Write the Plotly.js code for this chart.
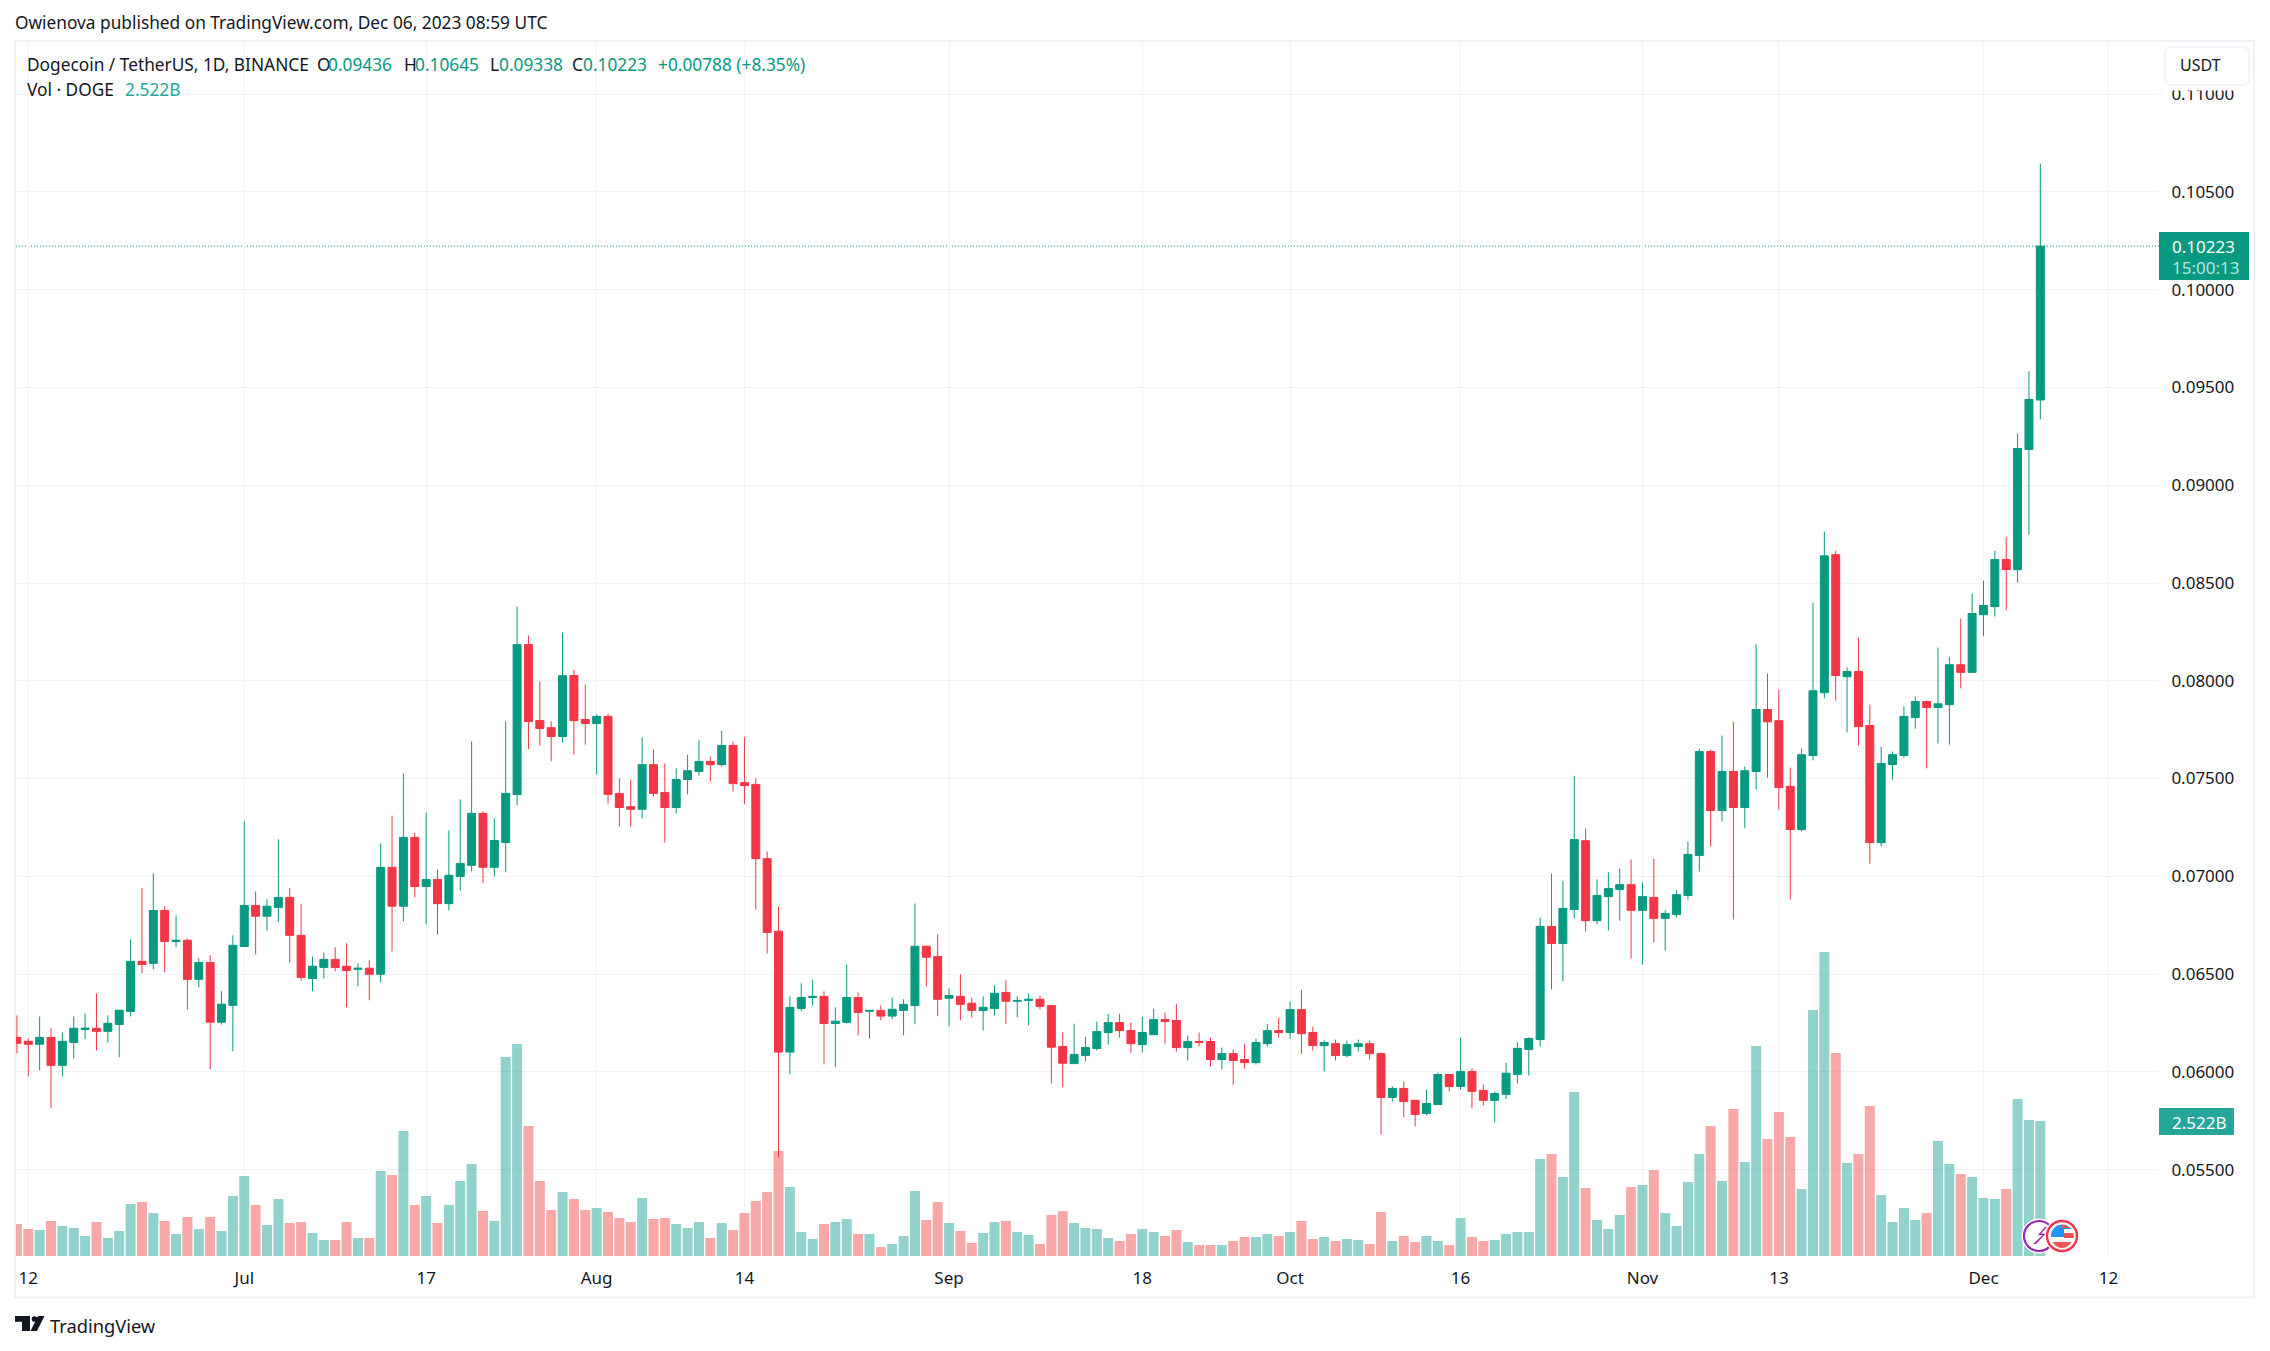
<!DOCTYPE html>
<html>
<head>
<meta charset="utf-8">
<script src="https://cdn.plot.ly/plotly-3.0.1.min.js"></script>
<style>html,body{margin:0;padding:0;background:#fff}#chart{width:2270px;height:1351px}</style>
</head>
<body>
<div id="chart"></div>
<script>
// First candle's calendar day; candles are consecutive days
const firstDay = '2023-06-11';

const opens = [
.06176,.06156,.06141,.06176,.06033,.06150,.06217,.06223,.06207,.06242,
.06309,.06565,.06555,.06825,.06667,.06673,.06473,.06559,.06254,.06340,
.06641,.06851,.06796,.06841,.06892,.06698,.06477,.06534,.06575,.06540,
.06524,.06530,.06499,.07046,.06847,.07199,.06948,.06984,.06860,.06999,
.07056,.07322,.07046,.07173,.07418,.08185,.07797,.07760,.07715,.08027,
.07802,.07781,.07818,.07423,.07356,.07343,.07571,.07429,.07352,.07495,
.07536,.07587,.07571,.07669,.07479,.07470,.07090,.06719,.06101,.06324,
.06380,.06386,.06247,.06253,.06380,.06310,.06314,.06285,.06314,.06339,
.06642,.06590,.06376,.06386,.06351,.06314,.06324,.06406,.06361,.06365,
.06371,.06339,.06130,.06042,.06083,.06119,.06201,.06252,.06211,.06139,
.06190,.06267,.06262,.06124,.06155,.06155,.06063,.06093,.06063,.06047,
.06144,.06211,.06201,.06318,.06201,.06134,.06144,.06083,.06129,.06144,
.06093,.05869,.05915,.05854,.05787,.05833,.05986,.05925,.06002,.05905,
.05854,.05885,.05987,.06114,.06165,.06744,.06656,.06830,.07182,.06773,
.06896,.06932,.06957,.06826,.06892,.06785,.06804,.06902,.07106,.07638,
.07336,.07536,.07352,.07536,.07853,.07796,.07460,.07239,.07618,.07939,
.08645,.08021,.08047,.07771,.07172,.07571,.07618,.07812,.07894,.07863,
.07878,.08082,.08043,.08338,.08379,.08620,.08568,.09183,.09436];

const closes = [
.06146,.06141,.06176,.06033,.06156,.06223,.06223,.06207,.06248,.06315,
.06565,.06549,.06825,.06667,.06673,.06473,.06559,.06254,.06346,.06647,
.06851,.06796,.06847,.06892,.06698,.06483,.06540,.06575,.06534,.06518,
.06530,.06499,.07046,.06847,.07199,.06948,.06984,.06860,.07005,.07066,
.07322,.07046,.07183,.07424,.08185,.07792,.07756,.07715,.08026,.07796,
.07781,.07818,.07419,.07352,.07343,.07571,.07423,.07352,.07495,.07540,
.07587,.07571,.07669,.07474,.07464,.07090,.06713,.06101,.06330,.06380,
.06386,.06247,.06259,.06380,.06304,.06314,.06285,.06320,.06345,.06642,
.06586,.06371,.06390,.06345,.06314,.06330,.06402,.06361,.06365,.06371,
.06335,.06126,.06044,.06088,.06124,.06206,.06252,.06211,.06144,.06201,
.06267,.06257,.06124,.06155,.06150,.06063,.06093,.06058,.06047,.06150,
.06211,.06201,.06318,.06195,.06134,.06150,.06083,.06139,.06144,.06093,
.05869,.05915,.05848,.05782,.05838,.05986,.05925,.06002,.05900,.05854,
.05889,.05993,.06120,.06171,.06744,.06656,.06836,.07188,.06773,.06902,
.06937,.06957,.06826,.06896,.06785,.06810,.06906,.07112,.07638,.07336,
.07536,.07352,.07540,.07853,.07790,.07454,.07239,.07622,.07949,.08639,
.08027,.08047,.07765,.07172,.07577,.07622,.07818,.07894,.07863,.07882,
.08082,.08043,.08344,.08385,.08620,.08569,.09188,.09439,.10223];

const highs = [
.06289,.06172,.06283,.06223,.06201,.06283,.06299,.06401,.06289,.06315,
.06677,.06939,.07015,.06847,.06800,.06682,.06581,.06596,.06412,.06698,
.07281,.06923,.06882,.07189,.06939,.06860,.06590,.06610,.06637,.06657,
.06555,.06571,.07168,.07310,.07526,.07222,.07326,.07035,.07234,.07393,
.07690,.07332,.07297,.07792,.08380,.08232,.07997,.07792,.08247,.08056,
.07980,.07828,.07831,.07501,.07495,.07710,.07648,.07577,.07552,.07622,
.07695,.07612,.07745,.07689,.07714,.07501,.07127,.06846,.06386,.06453,
.06472,.06412,.06330,.06549,.06406,.06314,.06339,.06380,.06371,.06861,
.06646,.06703,.06427,.06498,.06380,.06386,.06443,.06468,.06386,.06402,
.06390,.06339,.06202,.06246,.06180,.06257,.06297,.06297,.06252,.06282,
.06323,.06303,.06348,.06185,.06201,.06175,.06124,.06114,.06144,.06170,
.06246,.06277,.06359,.06420,.06231,.06160,.06165,.06160,.06165,.06160,
.06098,.05925,.05951,.05854,.05910,.05996,.05986,.06175,.06017,.05935,
.05900,.06047,.06151,.06176,.06789,.07014,.06978,.07514,.07245,.06984,
.07020,.07039,.07086,.06969,.07090,.06826,.06928,.07178,.07653,.07648,
.07720,.07790,.07561,.08189,.08037,.07955,.07556,.07653,.08399,.08763,
.08665,.08068,.08221,.07878,.07663,.07638,.07869,.07919,.07898,.08170,
.08123,.08318,.08446,.08512,.08665,.08737,.09265,.09582,.10645];

const lows = [
.06094,.05976,.06008,.05814,.05976,.06068,.06166,.06109,.06150,.06074,
.06283,.06504,.06524,.06508,.06637,.06319,.06432,.06013,.06242,.06105,
.06641,.06600,.06723,.06765,.06559,.06467,.06412,.06477,.06514,.06330,
.06438,.06366,.06457,.06616,.06769,.06892,.06755,.06702,.06825,.06927,
.07025,.06964,.06999,.07021,.07363,.07649,.07668,.07588,.07684,.07622,
.07673,.07521,.07372,.07255,.07251,.07296,.07409,.07172,.07321,.07419,
.07515,.07485,.07562,.07434,.07368,.06830,.06605,.05565,.05987,.06310,
.06339,.06038,.06023,.06247,.06187,.06171,.06263,.06269,.06187,.06244,
.06437,.06285,.06232,.06263,.06279,.06212,.06288,.06247,.06279,.06238,
.06320,.05940,.05921,.06042,.06053,.06109,.06139,.06175,.06098,.06098,
.06190,.06144,.06104,.06058,.06129,.06027,.06012,.05935,.06017,.06037,
.06129,.06175,.06170,.06093,.06109,.06002,.06058,.06073,.06104,.06063,
.05680,.05848,.05767,.05721,.05777,.05833,.05900,.05910,.05813,.05828,
.05741,.05861,.05940,.05981,.06129,.06421,.06462,.06785,.06718,.06754,
.06722,.06773,.06579,.06548,.06662,.06621,.06789,.06881,.07024,.07153,
.07280,.06779,.07245,.07444,.07505,.07340,.06881,.07229,.07593,.07910,
.07898,.07736,.07669,.07065,.07153,.07495,.07606,.07755,.07552,.07679,
.07673,.07961,.08043,.08230,.08328,.08360,.08502,.08747,.09338];

// Volume, billions of DOGE
const volumes = [
.598,.504,.486,.654,.560,.523,.374,.635,.336,.467,
.971,1.009,.803,.654,.411,.729,.504,.729,.467,1.121,
1.494,.953,.579,1.065,.616,.635,.430,.299,.299,.635,
.336,.336,1.588,1.513,2.335,.953,1.121,.616,.953,1.401,
1.719,.841,.654,3.718,3.960,2.429,1.401,.859,1.196,1.065,
.859,.897,.822,.710,.635,1.084,.691,.710,.598,.523,
.635,.336,.616,.486,.803,1.027,1.196,1.962,1.289,.448,
.318,.598,.635,.691,.411,.411,.168,.224,.374,1.214,
.673,1.009,.616,.467,.243,.430,.635,.654,.448,.392,
.224,.766,.841,.616,.523,.504,.336,.280,.411,.504,
.448,.374,.486,.262,.205,.205,.205,.280,.355,.355,
.411,.374,.448,.654,.318,.355,.280,.318,.299,.224,
.822,.280,.374,.262,.374,.280,.205,.710,.355,.280,
.299,.411,.448,.448,1.812,1.905,1.476,3.064,1.270,.673,
.504,.766,1.289,1.326,1.607,.803,.560,1.382,1.905,2.429,
1.401,2.746,1.756,3.923,2.186,2.690,2.223,1.252,4.595,5.679,
3.792,1.737,1.905,2.802,1.140,.635,.897,.673,.803,2.148,
1.719,1.532,1.476,1.084,1.065,1.252,2.933,2.541,2.522];

const xTickDates = ['2023-06-12','2023-07-01','2023-07-17','2023-08-01','2023-08-14','2023-09-01','2023-09-18','2023-10-01','2023-10-16','2023-11-01','2023-11-13','2023-12-01','2023-12-12'];
const xTickLabels = ['12','Jul','17','Aug','14','Sep','18','Oct','16','Nov','13','Dec','12'];

const UP='#089981', DOWN='#f23645', INK='#131722', GRID='#f0f3fa', FRAME='#f0f0f6';
const FONT='"Noto Sans", sans-serif';

const days = opens.map((_, i) => {
  const d = new Date(firstDay + 'T00:00:00Z');
  d.setUTCDate(d.getUTCDate() + i);
  return d.toISOString().slice(0, 10);
});

// Page pixel to paper fraction
const L=16,R=2159,T=42,B=1256;
const X = x => (x-L)/(R-L);
const Y = y => (B-y)/(B-T);

function ann(x,y,text,color,size,extra){
  return Object.assign({xref:'paper',yref:'paper',x:X(x),y:Y(y),text:text,showarrow:false,
    xanchor:'left',yanchor:'middle',borderpad:0,font:{family:FONT,size:size||17,color:color||INK}},extra||{});
}
function rect(x0,y0,x1,y1,fill,line,lw,layer){
  return {type:'rect',xref:'paper',yref:'paper',x0:X(x0),x1:X(x1),y0:Y(y0),y1:Y(y1),
    fillcolor:fill,line:{color:line||fill,width:lw===undefined?0:lw},layer:layer||'above'};
}
function pathShape(points,fill,line,lw){
  const d=points.map(p=>{
    if(typeof p==='string')return p;
    return p.length===4 ? 'Q'+X(p[0])+','+Y(p[1])+' '+X(p[2])+','+Y(p[3]) : (p[2]||'L')+X(p[0])+','+Y(p[1]);
  }).join(' ');
  return {type:'path',xref:'paper',yref:'paper',path:d,fillcolor:fill,line:{color:line||fill,width:lw||0},layer:'above'};
}
function circle(cx,cy,r,fill,line,lw){
  return {type:'circle',xref:'paper',yref:'paper',x0:X(cx-r),x1:X(cx+r),y0:Y(cy+r),y1:Y(cy-r),
    fillcolor:fill,line:{color:line,width:lw},layer:'above'};
}

const traces=[
 {type:'bar',x:days,y:volumes,yaxis:'y',
  marker:{color:closes.map((c,i)=>c>=opens[i]?'rgba(38,166,154,0.5)':'rgba(239,83,80,0.5)'),line:{width:0}},
  hoverinfo:'skip',showlegend:false},
 {type:'candlestick',x:days,open:opens,high:highs,low:lows,close:closes,yaxis:'y2',
  increasing:{line:{color:UP,width:1},fillcolor:UP},
  decreasing:{line:{color:DOWN,width:1},fillcolor:DOWN},
  whiskerwidth:0,showlegend:false}
];

const cx1=2039,cx2=2062,cy=1236;
const TXT=17.3;
const shapes=[
 // last price line
 {type:'line',xref:'paper',yref:'y2',x0:0,x1:1,y0:closes[closes.length-1],y1:closes[closes.length-1],
  line:{color:UP,width:1,dash:'1px,2px'},layer:'below'},
 // frame
 rect(15,41,2254,1297.5,'rgba(0,0,0,0)',FRAME,2),
 // top of the axis hidden by the USDT button
 rect(2160,86,2252,90.5,'#ffffff'),
 // USDT button
 pathShape([[2171,47,'M'],[2243,47],[2249,47,2249,53],[2249,79],[2249,85,2243,85],[2171,85],[2165,85,2165,79],[2165,53],[2165,47,2171,47],'Z'],'#ffffff',FRAME,1.5),
 // price labels
 rect(2159,232,2249,280,UP),
 rect(2159,1108,2234,1135,'#26a69a'),
 // event icons
 circle(cx1,cy,17,'#ffffff','#ffffff',1),
 circle(cx1,cy,15,'#ffffff','#9c27b0',2.2),
 pathShape([[cx1+6,cy-9,'M'],[cx1-1,cy-1],[cx1+4,cy-1],[cx1-6,cy+8],[cx1-3,cy+8],[cx1+7,cy-2.5],[cx1+2,cy-2.5],[cx1+8,cy-9],'Z'],'#9c27b0'),
 circle(cx2,cy,17,'#ffffff','#ffffff',1),
 circle(cx2,cy,15,'#ffffff','#f23645',2.4),
 pathShape([[cx2-5,cy-10.5,'M'],[cx2,cy-12.2,cx2+5,cy-10.5],[cx2+10,cy-7],[cx2+2,cy-7],[cx2+2,cy+1,'L'],[cx2-11,cy+1],[cx2-11.5,cy-6,cx2-5,cy-10.5],'Z'],'#2196f3'),
 pathShape([[cx2-1,cy-11.5,'M'],[cx2+5,cy-11.5,cx2+8,cy-8],[cx2+2,cy-8],[cx2+2,cy-8],[cx2-1,cy-8],'Z'],'#f25252'),
 pathShape([[cx2+2,cy-3,'M'],[cx2+11.5,cy-3],[cx2+11.8,cy+2],[cx2+2,cy+2],'Z'],'#f25252'),
 pathShape([[cx2-9.7,cy+6,'M'],[cx2+9.7,cy+6],[cx2+5,cy+12,cx2,cy+12],[cx2-5,cy+12,cx2-9.7,cy+6],'Z'],'#f25252'),
 // TradingView mark
 pathShape([[15,1316,'M'],[30,1316],[30,1331],[22,1331],[22,1321.7],[15,1321.7],'Z'],INK),
 circle(34.5,1319,2.8,INK,INK,0),
 pathShape([[38,1316,'M'],[44.5,1316],[37,1331],[30.5,1331],'Z'],INK)
];

const annotations=[
 ann(14,23,'Owienova published on TradingView.com, Dec 06, 2023 08:59 UTC',INK,TXT),
 ann(26,64,'Dogecoin / TetherUS, 1D, BINANCE',INK,TXT),
 ann(316,64,'O',INK,TXT), ann(327,64,'0.09436',UP,TXT),
 ann(403,64,'H',INK,TXT), ann(414,64,'0.10645',UP,TXT),
 ann(489,64,'L',INK,TXT), ann(498,64,'0.09338',UP,TXT),
 ann(571,64,'C',INK,TXT), ann(582,64,'0.10223',UP,TXT),
 ann(657,64,'+0.00788 (+8.35%)',UP,TXT),
 ann(26,90,'Vol · DOGE',INK,TXT),
 ann(124,90,'2.522B','#26a69a',TXT),
 ann(2179,65.5,'USDT',INK,16),
 ann(2171,246,'0.10223','#ffffff',17),
 ann(2171,267,'15:00:13','#b8e3db',17),
 ann(2171,1122,'2.522B','#ffffff',17),
 ann(49,1325,'TradingView',INK,18.3)
];

const layout={
 width:2270,height:1351,
 margin:{l:L,r:2270-R,t:T,b:1351-B,pad:0},
 paper_bgcolor:'#ffffff',plot_bgcolor:'#ffffff',
 showlegend:false,hovermode:false,dragmode:false,
 bargap:0.12,boxgap:0.3,boxgroupgap:0,
 font:{family:FONT,size:17,color:INK},
 xaxis:{type:'date',range:['2023-06-10 22:05','2023-12-16 10:34'],
  tickmode:'array',tickvals:xTickDates,ticktext:xTickLabels,
  showgrid:true,gridcolor:GRID,gridwidth:1,zeroline:false,showline:false,
  ticks:'outside',ticklen:7,tickcolor:'rgba(0,0,0,0)',tickangle:0,
  tickfont:{family:FONT,size:17,color:INK},
  rangeslider:{visible:false}},
 yaxis:{range:[0,22.68],visible:false,fixedrange:true,showgrid:false,zeroline:false},
 yaxis2:{overlaying:'y',side:'right',range:[0.05058,0.11267],
  tick0:0.05,dtick:0.005,tickformat:'.5f',
  showgrid:true,gridcolor:GRID,gridwidth:1,zeroline:false,showline:false,
  ticks:'outside',ticklen:8,tickcolor:'rgba(0,0,0,0)',
  tickfont:{family:FONT,size:17,color:INK}},
 shapes:shapes,annotations:annotations
};
Plotly.newPlot('chart',traces,layout,{displayModeBar:false,staticPlot:true});
</script>
</body>
</html>
